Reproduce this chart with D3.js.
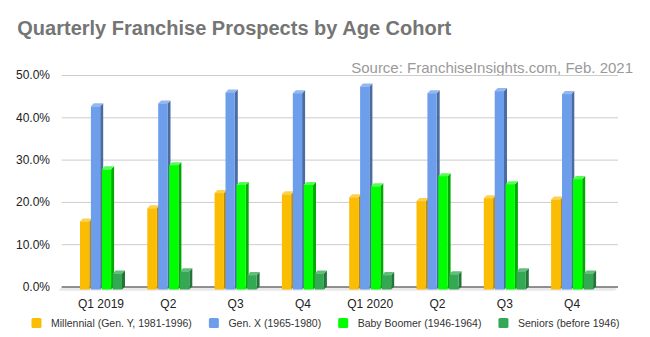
<!DOCTYPE html>
<html>
<head>
<meta charset="utf-8">
<script src="https://cdn.jsdelivr.net/npm/d3@7"></script>
<style>
  html, body { margin: 0; padding: 0; background: #fff; }
  svg { display: block; font-family: "Liberation Sans", Arial, sans-serif; }
</style>
</head>
<body>
<svg id="chart" width="650" height="337"></svg>
<script>
// ---- Data ----
const quarters = ["Q1 2019", "Q2", "Q3", "Q4", "Q1 2020", "Q2 ", "Q3 ", "Q4 "];
const quarterLabels = ["Q1 2019", "Q2", "Q3", "Q4", "Q1 2020", "Q2", "Q3", "Q4"];
const seriesNames = ["Millennial (Gen. Y, 1981-1996)", "Gen. X (1965-1980)", "Baby Boomer (1946-1964)", "Seniors (before 1946)"];
const millennial = [16.1, 19.2, 22.8, 22.5, 21.8, 20.9, 21.6, 21.3];
const genX       = [43.3, 44.0, 46.6, 46.4, 48.0, 46.4, 46.9, 46.2];
const boomer     = [28.4, 29.4, 24.7, 24.7, 24.4, 26.8, 24.9, 26.1];
const seniors    = [3.8, 4.3, 3.4, 3.8, 3.4, 3.6, 4.3, 3.8];
const yTicks = [0, 10, 20, 30, 40, 50];
const title = "Quarterly Franchise Prospects by Age Cohort";
const source = "Source: FranchiseInsights.com, Feb. 2021";

const seriesValues = [millennial, genX, boomer, seniors];
const colors = [
  { front: "#fbbc04", top: "#fcd14f", side: "#b98a03" },
  { front: "#6d9eeb", top: "#93b8f1", side: "#4a6ca3" },
  { front: "#00ff00", top: "#55ff55", side: "#00aa00" },
  { front: "#34a853", top: "#62be7a", side: "#23753a" }
];

// ---- Layout ----
const svg = d3.select("#chart");
const depth = 3;              // 3D offset
const gridLeft = 61.7, gridRight = 618;

const y = d3.scaleLinear().domain([0, 50]).range([286.5, 75]);
const x = d3.scaleBand().domain(quarters).range([54.7, 618.4]).padding(0.376);
const xs = d3.scaleBand().domain(d3.range(4)).range([0, x.bandwidth()]).paddingInner(0.147).paddingOuter(0);

// Title & source
svg.append("text").attr("x", 17.3).attr("y", 35)
  .attr("font-size", 20).attr("font-weight", "bold").attr("fill", "#757575")
  .text(title);
svg.append("text").attr("x", 633).attr("y", 73).attr("text-anchor", "end")
  .attr("font-size", 15).attr("fill", "#9a9a9a")
  .text(source);

// Floor
const y0b = y(0), y0f = y(0) + depth;
svg.append("path")
  .attr("d", `M${gridLeft},${y0b} L${gridRight},${y0b} L${gridRight - depth},${y0f + 1.2} L${gridLeft - depth},${y0f + 1.2} Z`)
  .attr("fill", "#e9e9e9");

// Y axis with gridlines
const yAxis = d3.axisLeft(y).tickValues(yTicks)
  .tickFormat(d => d3.format(".1f")(d) + "%")
  .tickSizeInner(-(gridRight - gridLeft)).tickSizeOuter(0).tickPadding(11.7);
const gy = svg.append("g").attr("transform", `translate(${gridLeft},0)`).call(yAxis);
gy.select(".domain").remove();
gy.selectAll(".tick line").attr("stroke", d => d === 0 ? "#333" : "#cccccc");
gy.selectAll(".tick text").attr("font-size", 12).attr("fill", "#222")
  .attr("font-family", "'Liberation Sans', Arial, sans-serif");

// Bars (3D)
const barsG = svg.append("g");
quarters.forEach((q, qi) => {
  seriesValues.forEach((vals, si) => {
    const v = vals[qi];
    const x0 = x(q) + xs(si);
    const w = xs.bandwidth();
    const yF = y(v) + depth;
    const c = colors[si];
    const g = barsG.append("g");
    // side
    g.append("path")
      .attr("d", `M${x0 + w},${yF} L${x0 + w + depth},${yF - depth} L${x0 + w + depth},${y0f - depth} L${x0 + w},${y0f} Z`)
      .attr("fill", c.side);
    // top
    g.append("path")
      .attr("d", `M${x0},${yF} L${x0 + depth},${yF - depth} L${x0 + w + depth},${yF - depth} L${x0 + w},${yF} Z`)
      .attr("fill", c.top);
    // front
    g.append("rect").attr("x", x0).attr("y", yF).attr("width", w).attr("height", y0f - yF)
      .attr("fill", c.front);
  });
});

// X axis labels
const xAxis = d3.axisBottom(x).tickSize(0).tickPadding(9.5)
  .tickFormat((d, i) => quarterLabels[i]);
const gx = svg.append("g").attr("transform", `translate(0,${y0f})`).call(xAxis);
gx.select(".domain").remove();
gx.selectAll(".tick text").attr("font-size", 12).attr("fill", "#222")
  .attr("font-family", "'Liberation Sans', Arial, sans-serif");

// Legend (centered)
const legend = svg.append("g");
const items = seriesNames.map((name, i) => {
  const g = legend.append("g");
  g.append("rect").attr("width", 10).attr("height", 10).attr("rx", 1.5)
    .attr("y", 318).attr("fill", colors[i].front);
  const t = g.append("text").attr("x", 19.5).attr("y", 326.5)
    .attr("font-size", 10.5).attr("fill", "#333").text(name);
  return { g, w: 19.5 + t.node().getComputedTextLength() };
});
const gap = 17;
const total = d3.sum(items, d => d.w) + gap * (items.length - 1);
let cx = 325.5 - total / 2;
items.forEach(it => { it.g.attr("transform", `translate(${cx},0)`); cx += it.w + gap; });
</script>
</body>
</html>
